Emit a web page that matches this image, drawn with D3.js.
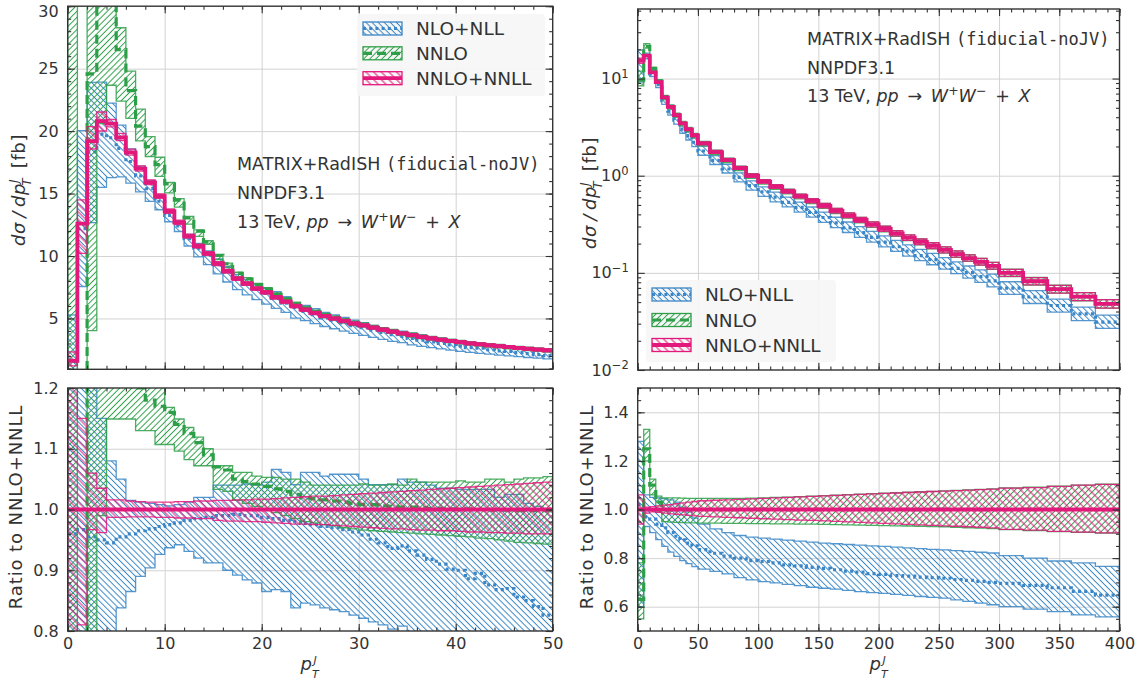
<!DOCTYPE html>
<html>
<head>
<meta charset="utf-8">
<script src="https://cdn.jsdelivr.net/npm/d3@7/dist/d3.min.js"></script>
<style>
html,body{margin:0;padding:0;background:#fff;}
svg text{font-family:"DejaVu Sans",sans-serif;fill:#333;}
</style>
</head>
<body>
<svg id="chart" width="1145" height="684"></svg>
<script>
// ================= DATA =================
const seriesNames = ["NLO+NLL", "NNLO", "NNLO+NNLL"];

// ---- left panels: p_T^J bins 0..50 (width 1) ----
const leftEdges = [0,1,2,3,4,5,6,7,8,9,10,11,12,13,14,15,16,17,18,19,20,21,22,23,24,25,26,27,28,29,30,31,32,33,34,35,36,37,38,39,40,41,42,43,44,45,46,47,48,49,50];
// NNLO+NNLL central [fb]
const leftRef = [1.6,12.6,19.2,20.8,20.6,19.5,18.3,17.0,15.9,14.8,13.6,12.7,11.6,10.8,10.2,9.4,8.8,8.2,7.8,7.4,7.1,6.7,6.35,6.0,5.7,5.45,5.2,5.0,4.8,4.6,4.45,4.27,4.1,3.95,3.8,3.66,3.53,3.41,3.3,3.2,3.1,3.0,2.93,2.85,2.78,2.71,2.64,2.57,2.51,2.45];
// ratios to NNLO+NNLL
const leftRefLo = [0.75,0.81,0.967,0.962,0.987,0.987,0.988,0.988,0.988,0.987,0.987,0.986,0.986,0.985,0.985,0.982,0.981,0.981,0.98,0.98,0.979,0.978,0.977,0.976,0.976,0.975,0.975,0.974,0.973,0.972,0.971,0.97,0.969,0.968,0.968,0.967,0.966,0.966,0.965,0.965,0.964,0.963,0.963,0.962,0.962,0.961,0.961,0.96,0.96,0.96];
const leftRefHi = [1.45,1.15,1.06,1.035,1.016,1.016,1.014,1.013,1.012,1.012,1.012,1.013,1.013,1.014,1.014,1.015,1.015,1.016,1.016,1.017,1.017,1.018,1.019,1.02,1.021,1.022,1.022,1.023,1.024,1.025,1.026,1.027,1.028,1.029,1.03,1.031,1.032,1.033,1.034,1.035,1.036,1.037,1.038,1.039,1.04,1.041,1.042,1.043,1.044,1.045];
const leftNlo = [0.96,0.967,0.955,0.95,0.945,0.955,0.96,0.965,0.968,0.972,0.975,0.978,0.982,0.985,0.987,0.99,0.99,0.992,0.99,0.99,0.987,0.985,0.982,0.98,0.977,0.975,0.972,0.97,0.967,0.963,0.958,0.951,0.945,0.936,0.94,0.932,0.925,0.918,0.91,0.902,0.9,0.886,0.895,0.876,0.868,0.87,0.856,0.85,0.84,0.826];
const leftNloLo = [0.5,0.6,0.66,0.745,0.79,0.838,0.865,0.89,0.904,0.926,0.937,0.942,0.931,0.92,0.912,0.912,0.9,0.892,0.884,0.879,0.865,0.868,0.865,0.838,0.846,0.843,0.838,0.835,0.832,0.826,0.821,0.815,0.81,0.803,0.808,0.79,0.785,0.78,0.775,0.77,0.765,0.76,0.755,0.75,0.745,0.74,0.735,0.73,0.725,0.72];
const leftNloHi = [3.3,1.59,1.245,1.15,1.08,1.05,1.015,1.012,1.01,1.008,1.006,1.008,1.012,1.02,1.02,1.04,1.04,1.04,1.042,1.04,1.045,1.066,1.061,1.041,1.061,1.061,1.055,1.058,1.058,1.058,1.05,1.041,1.041,1.041,1.05,1.045,1.045,1.04,1.035,1.035,1.033,1.033,1.033,1.033,1.02,1.025,1.025,1.01,1.005,1.0];
const leftNnlo = [0.2,0.02,1.28,1.5,1.48,1.36,1.27,1.2,1.18,1.17,1.16,1.14,1.125,1.11,1.09,1.07,1.065,1.05,1.046,1.042,1.038,1.034,1.03,1.025,1.02,1.018,1.016,1.014,1.012,1.01,1.008,1.008,1.006,1.005,1.004,1.004,1.003,1.002,1.002,1.001,1.0,1.001,1.0,0.999,1.0,0.999,0.998,0.999,0.998,0.998];
const leftNnloLo = [0.3,0.01,0.21,0.99,1.149,1.149,1.149,1.13,1.13,1.107,1.107,1.096,1.082,1.072,1.072,1.033,1.03,1.015,1.01,1.005,1.0,0.995,0.99,0.985,0.98,0.978,0.975,0.973,0.97,0.968,0.966,0.965,0.964,0.963,0.962,0.961,0.96,0.959,0.958,0.957,0.956,0.955,0.953,0.952,0.95,0.948,0.946,0.945,0.944,0.943];
const leftNnloHi = [30,0.03,1.8,1.6,1.55,1.45,1.355,1.28,1.23,1.21,1.168,1.149,1.135,1.119,1.1,1.072,1.072,1.061,1.061,1.055,1.053,1.053,1.05,1.05,1.045,1.04,1.04,1.04,1.04,1.04,1.042,1.04,1.04,1.042,1.04,1.05,1.045,1.045,1.045,1.045,1.047,1.045,1.045,1.05,1.05,1.045,1.05,1.052,1.052,1.054];

// ---- right panels: p_T^J bins 0..400 ----
const rightEdges = [0,5,10,15,20,25,30,35,40,45,50,60,70,80,90,100,110,120,130,140,150,160,170,180,190,200,210,220,230,240,250,260,270,280,290,300,320,340,360,380,400];
const rightRef = [15.3,17.2,11.6,9.2,6.4,5.1,4.2,3.45,3.0,2.6,2.15,1.75,1.45,1.2,1.0,0.87,0.77,0.69,0.615,0.55,0.49,0.435,0.39,0.35,0.315,0.283,0.255,0.23,0.208,0.19,0.172,0.156,0.142,0.13,0.118,0.1,0.082,0.068,0.057,0.048];
const rightRefLo = [0.94,0.985,0.99,0.988,0.985,0.982,0.98,0.978,0.976,0.974,0.972,0.97,0.968,0.966,0.964,0.962,0.96,0.958,0.956,0.955,0.953,0.951,0.949,0.947,0.945,0.943,0.941,0.939,0.937,0.935,0.933,0.931,0.929,0.927,0.924,0.918,0.915,0.91,0.907,0.904];
const rightRefHi = [1.06,1.01,1.012,1.015,1.018,1.02,1.024,1.027,1.03,1.033,1.036,1.038,1.04,1.042,1.044,1.046,1.048,1.05,1.052,1.054,1.056,1.058,1.06,1.062,1.064,1.066,1.068,1.07,1.072,1.074,1.076,1.078,1.08,1.082,1.084,1.088,1.09,1.095,1.1,1.103];
const rightNlo = [1.02,0.97,0.96,0.94,0.925,0.905,0.89,0.875,0.862,0.85,0.835,0.82,0.808,0.8,0.79,0.786,0.78,0.772,0.768,0.762,0.758,0.752,0.746,0.742,0.736,0.733,0.728,0.726,0.722,0.72,0.717,0.712,0.708,0.704,0.7,0.696,0.688,0.678,0.663,0.648];
const rightNloLo = [0.6,0.93,0.905,0.876,0.848,0.825,0.807,0.79,0.777,0.765,0.755,0.745,0.735,0.72,0.71,0.703,0.698,0.692,0.687,0.68,0.676,0.672,0.667,0.662,0.658,0.655,0.651,0.647,0.642,0.638,0.635,0.628,0.622,0.615,0.608,0.6,0.59,0.58,0.566,0.558];
const rightNloHi = [1.28,1.06,1.05,1.048,1.045,1.04,1.03,1.01,0.99,0.965,0.94,0.92,0.905,0.893,0.886,0.882,0.878,0.874,0.87,0.866,0.862,0.859,0.856,0.853,0.85,0.848,0.845,0.842,0.839,0.836,0.834,0.831,0.828,0.824,0.821,0.81,0.8,0.788,0.78,0.766];
const rightNnlo = [0.63,1.25,1.1,1.03,1.0,0.998,1.0,1.002,0.999,1.0,1.0,1.001,0.999,1.0,1.0,1.002,1.0,0.999,1.0,1.001,1.0,1.0,0.999,1.0,1.001,1.0,1.0,1.0,0.999,1.0,1.001,1.0,1.0,0.999,1.0,1.0,1.001,1.0,1.0,0.999];
const rightNnloLo = [0.55,1.2,1.06,0.99,0.95,0.948,0.947,0.946,0.945,0.945,0.944,0.944,0.943,0.943,0.942,0.942,0.941,0.941,0.94,0.94,0.939,0.938,0.937,0.936,0.935,0.934,0.933,0.932,0.931,0.93,0.929,0.927,0.925,0.923,0.921,0.917,0.913,0.909,0.906,0.903];
const rightNnloHi = [0.78,1.33,1.125,1.055,1.048,1.048,1.048,1.047,1.046,1.046,1.046,1.046,1.046,1.046,1.047,1.048,1.05,1.051,1.053,1.055,1.057,1.059,1.061,1.063,1.065,1.067,1.069,1.071,1.073,1.075,1.077,1.079,1.081,1.083,1.085,1.089,1.092,1.096,1.1,1.104];

// ---- ticks ----
const leftXTicks = [0,10,20,30,40,50];
const leftYTicks = [5,10,15,20,25,30];
const leftRatioTicks = [0.8,0.9,1.0,1.1,1.2];
const rightXTicks = [0,50,100,150,200,250,300,350,400];
const rightYTicks = [0.01,0.1,1,10];
const rightYExp = ["\u22122","\u22121","0","1"];
const rightRatioTicks = [0.6,0.8,1.0,1.2,1.4];

// ================= DRAWING =================
const svg = d3.select("#chart");
const defs = svg.append("defs");
const COL = {nlo:"#3a86c6", nnlo:"#2e9f49", ref:"#e3187b"};
const TXT = "#333";

function hatch(id, color, angle, sp, w){
  const p = defs.append("pattern").attr("id", id).attr("patternUnits","userSpaceOnUse")
    .attr("width", sp).attr("height", sp).attr("patternTransform", `rotate(${angle})`);
  p.append("line").attr("x1", sp/2).attr("x2", sp/2).attr("y1", -1).attr("y2", sp+1)
    .attr("stroke", color).attr("stroke-width", w);
}
hatch("hNlo", COL.nlo, -45, 4.3, 1.0);
hatch("hNnlo", COL.nnlo, 45, 4.3, 1.0);
hatch("hRef", COL.ref, -45, 5.4, 1.0);

const STY = {
  nlo: {color:COL.nlo, pat:"hNlo", w:3.2, dash:"3,3.2"},
  nnlo:{color:COL.nnlo, pat:"hNnlo", w:3.2, dash:"9,5"},
  ref: {color:COL.ref, pat:"hRef", w:3.8, dash:null}
};

function stepPts(edges, c, lo, hi){
  const pts = [];
  c.forEach((v,i)=>{ pts.push([edges[i], v, lo[i], hi[i]]); pts.push([edges[i+1], v, lo[i], hi[i]]); });
  return pts;
}

function drawSeries(g, x, y, pts, st){
  g.append("path")
    .attr("d", d3.area().x(d=>x(d[0])).y0(d=>y(d[2])).y1(d=>y(d[3]))(pts))
    .attr("fill", `url(#${st.pat})`).attr("stroke", st.color).attr("stroke-opacity", 0.85)
    .attr("stroke-width", 1.3).attr("stroke-linejoin","miter");
  g.append("path")
    .attr("d", d3.line().x(d=>x(d[0])).y(d=>y(d[1]))(pts))
    .attr("fill","none").attr("stroke", st.color).attr("stroke-width", st.w)
    .attr("stroke-dasharray", st.dash).attr("stroke-linecap", "butt");
}

let clipN = 0;
function panel(cfg){
  const {x, y} = cfg;
  const [x0,x1] = x.range(); const [yb,yt] = y.range();
  const g = svg.append("g");
  const grid = g.append("g");
  grid.append("g").attr("transform",`translate(0,${yb})`)
    .call(d3.axisBottom(x).tickValues(cfg.xGrid).tickSize(-(yb-yt)).tickFormat(""));
  grid.append("g").attr("transform",`translate(${x0},0)`)
    .call(d3.axisLeft(y).tickValues(cfg.yGrid).tickSize(-(x1-x0)).tickFormat(""));
  grid.selectAll(".domain").remove();
  grid.selectAll("line").attr("stroke","#d3d3d3").attr("stroke-width",1);
  const id = "clip"+(clipN++);
  defs.append("clipPath").attr("id", id).append("rect")
    .attr("x", x0).attr("y", yt).attr("width", x1-x0).attr("height", yb-yt);
  const plot = g.append("g").attr("clip-path", `url(#${id})`);
  cfg.series.forEach(s => drawSeries(plot, x, y, s.pts, s.st));
  function ax(gen, tr, vals, size, fmt, pad){
    const a = g.append("g").attr("transform", tr)
      .call(gen.tickValues(vals).tickSize(size).tickPadding(pad||8).tickFormat(fmt));
    a.attr("font-family", null).attr("font-size", null);
    a.select(".domain").remove();
    a.selectAll("line").attr("stroke", "#333").attr("stroke-width", 1.1);
    a.selectAll("text").attr("font-size", 16).attr("fill", TXT);
    return a;
  }
  const none = () => "";
  ax(d3.axisBottom(x), `translate(0,${yb})`, cfg.xMinor, -3.5, none);
  ax(d3.axisTop(x), `translate(0,${yt})`, cfg.xMinor, -3.5, none);
  ax(d3.axisBottom(x), `translate(0,${yb})`, cfg.xTicks, -7, cfg.xFmt || none, 7);
  ax(d3.axisTop(x), `translate(0,${yt})`, cfg.xTicks, -7, none);
  ax(d3.axisLeft(y), `translate(${x0},0)`, cfg.yMinor, -3.5, none);
  ax(d3.axisRight(y), `translate(${x1},0)`, cfg.yMinor, -3.5, none);
  const yl = ax(d3.axisLeft(y), `translate(${x0},0)`, cfg.yTicks, -7, cfg.yFmt, 9);
  ax(d3.axisRight(y), `translate(${x1},0)`, cfg.yTicks, -7, none);
  if (cfg.yPost) cfg.yPost(yl);
  g.append("rect").attr("x", x0).attr("y", yt).attr("width", x1-x0).attr("height", yb-yt)
    .attr("fill","none").attr("stroke","#333").attr("stroke-width",1.4);
  return g;
}

// scales
const xL = d3.scaleLinear().domain([0,50]).range([67.7,552.7]);
const xR = d3.scaleLinear().domain([0,400]).range([637.7,1119.5]);
const yLT = d3.scaleLinear().domain([0.93,30]).range([369.3,6.2]);
const yLR = d3.scaleLinear().domain([0.8,1.2]).range([631,388]);
const yRT = d3.scaleLog().domain([0.01,52]).range([370,9]);
const yRR = d3.scaleLinear().domain([0.5,1.5]).range([631,388]);

const mul = (r, ref) => r.map((v,i)=>v*ref[i]);
const div = (a, ref) => a.map((v,i)=>v/ref[i]);

panel({
  x:xL, y:yLT,
  xGrid:[10,20,30,40], yGrid:[5,10,15,20,25],
  xTicks:leftXTicks, xMinor:d3.range(0,51,2),
  yTicks:leftYTicks, yMinor:d3.range(1,31,1), yFmt:d3.format("d"),
  yPost:(a)=>{ a.selectAll(".tick text").filter(d=>d===30).attr("dy","0.62em"); },
  series:[
    {st:STY.nlo, pts:stepPts(leftEdges, mul(leftNlo,leftRef), mul(leftNloLo,leftRef), mul(leftNloHi,leftRef))},
    {st:STY.nnlo, pts:stepPts(leftEdges, mul(leftNnlo,leftRef), mul(leftNnloLo,leftRef), mul(leftNnloHi,leftRef))},
    {st:STY.ref, pts:stepPts(leftEdges, leftRef, mul(leftRefLo,leftRef), mul(leftRefHi,leftRef))}
  ]
});
panel({
  x:xL, y:yLR,
  xGrid:[10,20,30,40], yGrid:[0.9,1.0,1.1],
  xTicks:leftXTicks, xMinor:d3.range(0,51,2), xFmt:d3.format("d"),
  yTicks:leftRatioTicks, yMinor:d3.range(0.8,1.2001,0.02), yFmt:d3.format(".1f"),
  series:[
    {st:STY.nlo, pts:stepPts(leftEdges, leftNlo, leftNloLo, leftNloHi)},
    {st:STY.nnlo, pts:stepPts(leftEdges, leftNnlo, leftNnloLo, leftNnloHi)},
    {st:STY.ref, pts:stepPts(leftEdges, div(leftRef,leftRef), leftRefLo, leftRefHi)}
  ]
});
const logMinor = [];
[0.01,0.1,1,10].forEach(d=>{ for(let k=2;k<=9;k++){ if(d*k<=52) logMinor.push(d*k); } });
panel({
  x:xR, y:yRT,
  xGrid:[50,100,150,200,250,300,350], yGrid:[0.1,1,10],
  xTicks:rightXTicks, xMinor:d3.range(0,401,10),
  yTicks:rightYTicks, yMinor:logMinor, yFmt:()=>"",
  yPost:(a)=>{
    a.selectAll(".tick text").each(function(d){
      const t = d3.select(this).text(null);
      t.append("tspan").text("10");
      t.append("tspan").attr("dy","-0.55em").attr("font-size",11.5).text(rightYExp[rightYTicks.indexOf(d)]);
    });
  },
  series:[
    {st:STY.nlo, pts:stepPts(rightEdges, mul(rightNlo,rightRef), mul(rightNloLo,rightRef), mul(rightNloHi,rightRef))},
    {st:STY.nnlo, pts:stepPts(rightEdges, mul(rightNnlo,rightRef), mul(rightNnloLo,rightRef), mul(rightNnloHi,rightRef))},
    {st:STY.ref, pts:stepPts(rightEdges, rightRef, mul(rightRefLo,rightRef), mul(rightRefHi,rightRef))}
  ]
});
panel({
  x:xR, y:yRR,
  xGrid:[50,100,150,200,250,300,350], yGrid:[0.6,0.8,1.0,1.2,1.4],
  xTicks:rightXTicks, xMinor:d3.range(0,401,10), xFmt:d3.format("d"),
  yTicks:rightRatioTicks, yMinor:d3.range(0.5,1.5001,0.05), yFmt:d3.format(".1f"),
  series:[
    {st:STY.nlo, pts:stepPts(rightEdges, rightNlo, rightNloLo, rightNloHi)},
    {st:STY.nnlo, pts:stepPts(rightEdges, rightNnlo, rightNnloLo, rightNnloHi)},
    {st:STY.ref, pts:stepPts(rightEdges, div(rightRef,rightRef), rightRefLo, rightRefHi)}
  ]
});

// ---- legends ----
function legend(bx, by, bw, bh, rowY){
  svg.append("rect").attr("x",bx).attr("y",by).attr("width",bw).attr("height",bh)
    .attr("rx",4).attr("fill","#f6f6f6").attr("fill-opacity",0.92);
  [STY.nlo, STY.nnlo, STY.ref].forEach((st,i)=>{
    const cy = rowY[i];
    const px = bx+6, pw = 39, ph = 13;
    svg.append("rect").attr("x",px).attr("y",cy-ph/2).attr("width",pw).attr("height",ph)
      .attr("fill",`url(#${st.pat})`).attr("stroke",st.color).attr("stroke-width",1.3);
    svg.append("line").attr("x1",px).attr("x2",px+pw).attr("y1",cy).attr("y2",cy)
      .attr("stroke",st.color).attr("stroke-width",st.w).attr("stroke-dasharray",st.dash);
    svg.append("text").attr("x",bx+59).attr("y",cy+6.5).attr("font-size",18.5).text(seriesNames[i]);
  });
}
legend(357, 14, 188, 82, [28.5, 53.3, 78.2]);
legend(646, 280, 190, 82, [294.5, 320, 345]);

// ---- annotations ----
function annot(x, y0, dy){
  const t1 = svg.append("text").attr("x",x).attr("y",y0).attr("font-size",17.5);
  t1.append("tspan").text("MATRIX+RadISH ");
  t1.append("tspan").attr("font-family","'DejaVu Sans Mono',monospace").attr("font-size",17).text("(fiducial-noJV)");
  svg.append("text").attr("x",x).attr("y",y0+dy).attr("font-size",17.5).text("NNPDF3.1");
  const t3 = svg.append("text").attr("x",x).attr("y",y0+2*dy).attr("font-size",17.5);
  t3.append("tspan").text("13 TeV, ");
  t3.append("tspan").attr("font-style","italic").text("pp");
  t3.append("tspan").text("\u2002\u2192\u2002");
  t3.append("tspan").attr("font-style","italic").text("W");
  t3.append("tspan").attr("dy",-7).attr("font-size",12.5).text("+");
  t3.append("tspan").attr("dy",7).attr("font-style","italic").text("W");
  t3.append("tspan").attr("dy",-7).attr("font-size",12.5).text("\u2212");
  t3.append("tspan").attr("dy",7).text("\u2002+\u2002");
  t3.append("tspan").attr("font-style","italic").text("X");
}
annot(237, 169.5, 29);
annot(807, 45, 28.5);

// ---- axis labels ----
function yLabel(cx, cy){
  const t = svg.append("text").attr("transform",`translate(${cx},${cy}) rotate(-90)`)
    .attr("text-anchor","middle").attr("font-size",18).attr("letter-spacing",0.6);
  t.append("tspan").attr("font-style","italic").text("d\u03C3\u2009/\u2009dp");
  t.append("tspan").attr("dy",-7.5).attr("font-size",12).attr("font-style","italic").text("J");
  t.append("tspan").attr("dx",-7).attr("dy",13).attr("font-size",12).attr("font-style","italic").text("T");
  t.append("tspan").attr("dy",-5.5).text("\u2002[fb]");
}
yLabel(25, 190);
yLabel(596, 193);
function rLabel(cx, cy){
  svg.append("text").attr("transform",`translate(${cx},${cy}) rotate(-90)`)
    .attr("text-anchor","middle").attr("font-size",18).attr("letter-spacing",0.9).text("Ratio to NNLO+NNLL");
}
rLabel(22, 507);
rLabel(593, 507);
// p_T^J : base letter, superscript and subscript as separate texts
function xLabel(cx, base){
  svg.append("text").attr("x",cx-1).attr("y",base).attr("text-anchor","end")
    .attr("font-size",18).attr("font-style","italic").text("p");
  svg.append("text").attr("x",cx+0.5).attr("y",base-6).attr("font-size",11)
    .attr("font-style","italic").text("J");
  svg.append("text").attr("x",cx-1).attr("y",base+8).attr("font-size",11)
    .attr("font-style","italic").text("T");
}
xLabel(313, 670);
xLabel(882, 670);
</script>
</body>
</html>
